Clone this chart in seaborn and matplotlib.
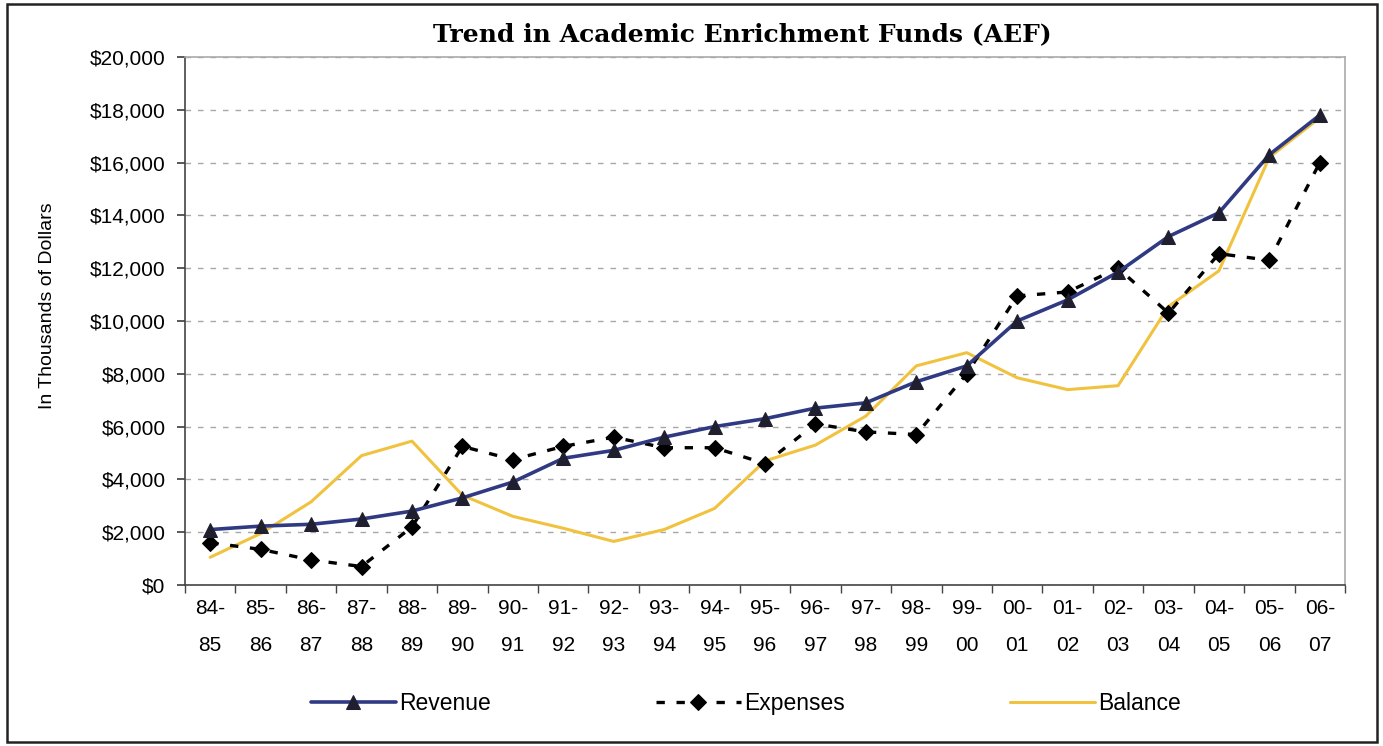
import matplotlib
matplotlib.use("Agg")
import matplotlib.pyplot as plt
import seaborn as sns
import pandas as pd
import numpy as np
from matplotlib.patches import Rectangle

years = ["84-\n85", "85-\n86", "86-\n87", "87-\n88", "88-\n89", "89-\n90", "90-\n91", "91-\n92",
         "92-\n93", "93-\n94", "94-\n95", "95-\n96", "96-\n97", "97-\n98", "98-\n99", "99-\n00",
         "00-\n01", "01-\n02", "02-\n03", "03-\n04", "04-\n05", "05-\n06", "06-\n07"]
revenue = [2100, 2230, 2300, 2500, 2800, 3300, 3900, 4800, 5100, 5600, 6000, 6300,
           6700, 6900, 7700, 8300, 10000, 10800, 11850, 13200, 14100, 16300, 17800]
expenses = [1600, 1350, 950, 700, 2200, 5250, 4750, 5250, 5600, 5200, 5200, 4600,
            6100, 5800, 5700, 8000, 10950, 11100, 12000, 10300, 12550, 12300, 16000]
balance = [1050, 1950, 3150, 4900, 5450, 3400, 2600, 2150, 1650, 2100, 2900, 4700,
           5300, 6400, 8300, 8800, 7850, 7400, 7550, 10550, 11900, 16200, 17700]
yticks = list(range(0, 20001, 2000))

sns.set_theme(style="white")
plt.rcParams['font.family'] = ['Liberation Sans', 'DejaVu Sans']
plt.rcParams['text.color'] = 'black'
plt.rcParams['axes.labelcolor'] = 'black'
plt.rcParams['xtick.labelcolor'] = 'black'
plt.rcParams['ytick.labelcolor'] = 'black'

fig = plt.figure(figsize=(13.83, 7.46), dpi=100)
ax = fig.add_axes([185/1383, 1-585/746, (1345-185)/1383, (585-57)/746])

idx = np.arange(len(years))
df = pd.DataFrame({"i": idx, "Revenue": revenue, "Expenses": expenses, "Balance": balance})

sns.lineplot(data=df, x="i", y="Balance", ax=ax, color="#F0C23E", lw=2.2, label="Balance", sort=False, zorder=2)
sns.lineplot(data=df, x="i", y="Expenses", ax=ax, color="black", lw=2.4, linestyle=(0, (2.5, 3.5)),
             marker="D", markersize=8, markeredgecolor="black", label="Expenses", sort=False, zorder=3)
sns.lineplot(data=df, x="i", y="Revenue", ax=ax, color="#2F3A82", lw=2.6, marker="^", markersize=10,
             markerfacecolor="#1F1F2F", markeredgecolor="#1F1F2F", label="Revenue", sort=False, zorder=4)

ax.set_xlim(-0.5, len(years) - 0.5)
ax.set_ylim(0, 20000)
ax.set_yticks(yticks)
ax.set_yticklabels([f"${v:,}" for v in yticks], fontsize=15)
ax.set_xticks(idx)
ax.set_xticklabels(years, fontsize=15, linespacing=2.2)
ax.set_xticks(np.arange(-0.5, len(years)), minor=True)
ax.tick_params(axis="x", which="major", length=0, pad=10)
ax.tick_params(axis="x", which="minor", length=6, color="#444444", direction="out", bottom=True)
ax.tick_params(axis="y", length=6, color="#444444", direction="out", left=True, pad=8)
ax.set_xlabel("")
ax.set_ylabel("In Thousands of Dollars", fontsize=14)
ax.yaxis.set_label_coords((56-185)/1160, (585-306)/528)

ax.yaxis.grid(True, linestyle=(0, (4, 5)), color="#A8A8A8", lw=1)
ax.set_axisbelow(True)
for s in ["left", "bottom"]:
    ax.spines[s].set_color("#444444")
    ax.spines[s].set_linewidth(1.2)
for s in ["top", "right"]:
    ax.spines[s].set_color("#AAAAAA")
    ax.spines[s].set_linewidth(1.2)

fig.text(0.537, 1-34/746, "Trend in Academic Enrichment Funds (AEF)", ha="center", va="center",
         fontsize=18, fontweight="bold", family=["DejaVu Serif"])

handles, labels = ax.get_legend_handles_labels()
order = [labels.index("Revenue"), labels.index("Expenses"), labels.index("Balance")]
ax.legend([handles[i] for i in order], [labels[i] for i in order], loc="center",
          bbox_to_anchor=((746-185)/1160, -0.225), ncol=3, frameon=False, fontsize=16.5,
          handlelength=3.7, columnspacing=7.2, handletextpad=0.15)

fig.patches.append(Rectangle((7/1383, 4/746), 1370/1383, 738/746, transform=fig.transFigure,
                             fill=False, edgecolor="#222222", lw=1.8))

fig.savefig("out.png", dpi=100)
